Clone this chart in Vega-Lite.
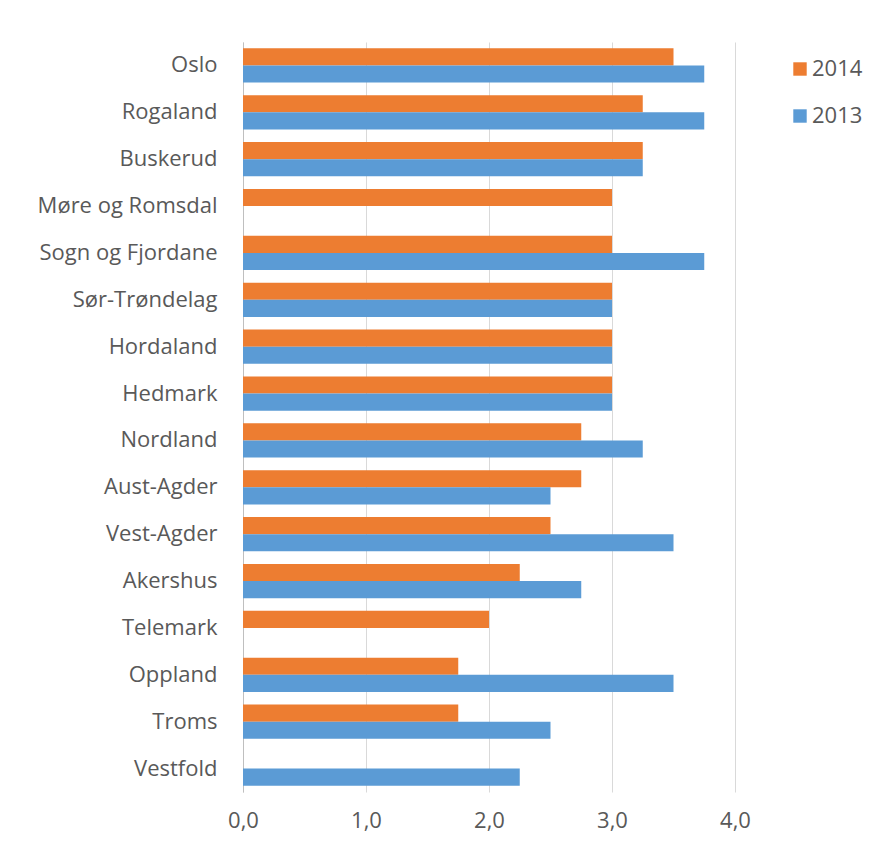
{
  "$schema": "https://vega.github.io/schema/vega-lite/v6.json",
  "autosize": "none",
  "width": 492,
  "height": 750,
  "padding": {"left": 243, "top": 42, "right": 149, "bottom": 51},
  "background": "white",
  "data": {
    "values": [
      {"fylke": "Oslo", "year": "2014", "value": 3.5},
      {"fylke": "Oslo", "year": "2013", "value": 3.75},
      {"fylke": "Rogaland", "year": "2014", "value": 3.25},
      {"fylke": "Rogaland", "year": "2013", "value": 3.75},
      {"fylke": "Buskerud", "year": "2014", "value": 3.25},
      {"fylke": "Buskerud", "year": "2013", "value": 3.25},
      {"fylke": "Møre og Romsdal", "year": "2014", "value": 3.0},
      {"fylke": "Sogn og Fjordane", "year": "2014", "value": 3.0},
      {"fylke": "Sogn og Fjordane", "year": "2013", "value": 3.75},
      {"fylke": "Sør-Trøndelag", "year": "2014", "value": 3.0},
      {"fylke": "Sør-Trøndelag", "year": "2013", "value": 3.0},
      {"fylke": "Hordaland", "year": "2014", "value": 3.0},
      {"fylke": "Hordaland", "year": "2013", "value": 3.0},
      {"fylke": "Hedmark", "year": "2014", "value": 3.0},
      {"fylke": "Hedmark", "year": "2013", "value": 3.0},
      {"fylke": "Nordland", "year": "2014", "value": 2.75},
      {"fylke": "Nordland", "year": "2013", "value": 3.25},
      {"fylke": "Aust-Agder", "year": "2014", "value": 2.75},
      {"fylke": "Aust-Agder", "year": "2013", "value": 2.5},
      {"fylke": "Vest-Agder", "year": "2014", "value": 2.5},
      {"fylke": "Vest-Agder", "year": "2013", "value": 3.5},
      {"fylke": "Akershus", "year": "2014", "value": 2.25},
      {"fylke": "Akershus", "year": "2013", "value": 2.75},
      {"fylke": "Telemark", "year": "2014", "value": 2.0},
      {"fylke": "Oppland", "year": "2014", "value": 1.75},
      {"fylke": "Oppland", "year": "2013", "value": 3.5},
      {"fylke": "Troms", "year": "2014", "value": 1.75},
      {"fylke": "Troms", "year": "2013", "value": 2.5},
      {"fylke": "Vestfold", "year": "2013", "value": 2.25}
    ]
  },
  "mark": {"type": "bar"},
  "encoding": {
    "y": {
      "field": "fylke",
      "type": "nominal",
      "sort": null,
      "scale": {"paddingInner": 0.27, "paddingOuter": 0.135},
      "axis": {
        "title": null,
        "domain": true,
        "domainColor": "#bfbfbf",
        "ticks": false,
        "labelPadding": 26,
        "labelLimit": 400,
        "labelFont": "Open Sans",
        "labelFontSize": 22,
        "labelColor": "#595959",
        "grid": false
      }
    },
    "yOffset": {"field": "year", "type": "nominal", "sort": ["2014", "2013"]},
    "x": {
      "field": "value",
      "type": "quantitative",
      "scale": {"domain": [0, 4]},
      "axis": {
        "title": null,
        "values": [0, 1, 2, 3, 4],
        "labelExpr": "replace(format(datum.value, '.1f'), '.', ',')",
        "labelFlush": false,
        "domain": false,
        "ticks": false,
        "grid": true,
        "gridColor": "#d9d9d9",
        "labelPadding": 18,
        "labelFont": "Open Sans",
        "labelFontSize": 22,
        "labelColor": "#595959"
      }
    },
    "color": {
      "field": "year",
      "type": "nominal",
      "scale": {"domain": ["2014", "2013"], "range": ["#ED7D31", "#5B9BD5"]},
      "legend": {
        "title": null,
        "orient": "none",
        "legendX": 546,
        "legendY": 16,
        "symbolType": "square",
        "symbolSize": 180,
        "labelFont": "Open Sans",
        "labelFontSize": 22,
        "labelColor": "#595959",
        "rowPadding": 25,
        "labelOffset": 1
      }
    }
  },
  "config": {"view": {"stroke": null}}
}
